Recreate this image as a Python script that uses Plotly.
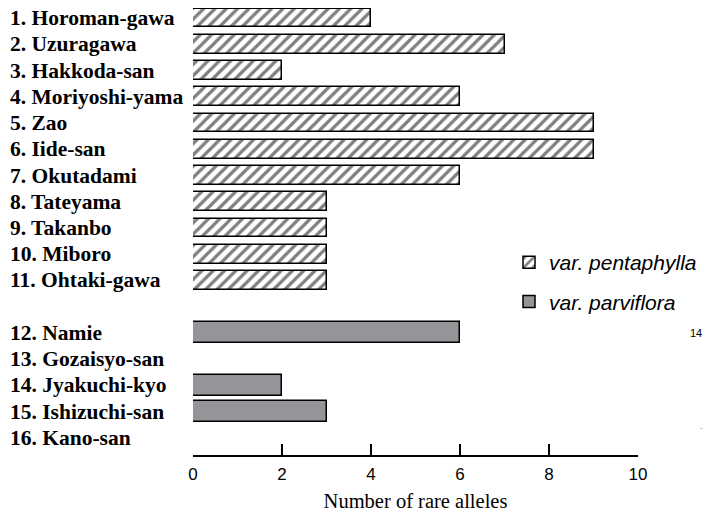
import plotly.graph_objects as go

sites = ["1. Horoman-gawa", "2. Uzuragawa", "3. Hakkoda-san", "4. Moriyoshi-yama",
         "5. Zao", "6. Iide-san", "7. Okutadami", "8. Tateyama", "9. Takanbo",
         "10. Miboro", "11. Ohtaki-gawa"]
sites_parv = ["12. Namie", "13. Gozaisyo-san", "14. Jyakuchi-kyo",
              "15. Ishizuchi-san", "16. Kano-san"]
rare_pent = [4, 7, 2, 6, 9, 9, 6, 3, 3, 3, 3]
rare_parv = [6, 0, 2, 3, 0]
x_ticks = [0, 2, 4, 6, 8, 10]

pos_pent = list(range(len(sites)))
pos_parv = [len(sites) + 1 + i for i in range(len(sites_parv))]

fig = go.Figure()
fig.add_trace(go.Bar(
    y=pos_pent, x=rare_pent, orientation="h", width=0.72,
    name="var. pentaphylla", legendgroup="a",
    marker=dict(color="white", line=dict(color="black", width=1.5),
                pattern=dict(shape="/", fgcolor="black", bgcolor="white",
                             size=8, solidity=0.4)),
))
fig.add_trace(go.Bar(
    y=pos_parv, x=rare_parv, orientation="h", width=0.8,
    name="var. parviflora", legendgroup="b",
    marker=dict(color="#939598", line=dict(color="black", width=1.5)),
))

W, H = 705, 516
L, R, T, B = 193, 67, 8, 61
pw = W - L - R
ph = H - T - B

annotations = []
for name, p in zip(sites + sites_parv, pos_pent + pos_parv):
    annotations.append(dict(
        x=-(L - 8) / pw, xref="paper", y=p, yref="y", text="<b>" + name + "</b>",
        showarrow=False, xanchor="left", yanchor="middle",
        font=dict(family="Liberation Serif", size=21.5, color="black")))
annotations.append(dict(x=(704 - L) / pw, xref="paper", y=pos_parv[0], yref="y",
                        text="14", showarrow=False, xanchor="right",
                        font=dict(family="Liberation Sans", size=11, color="black")))
annotations.append(dict(x=(705 - L) / pw, xref="paper", y=15.55, yref="y",
                        text=".", showarrow=False, xanchor="right",
                        font=dict(family="Liberation Sans", size=9, color="#555555")))

fig.update_layout(
    width=W, height=H, autosize=False,
    margin=dict(l=L, r=R, t=T, b=B, autoexpand=False),
    plot_bgcolor="white", paper_bgcolor="white",
    bargap=0, showlegend=True,
    legend=dict(x=(509 - L) / pw, y=(H - B - 242) / ph, xanchor="left", yanchor="top",
                font=dict(family="Liberation Sans", size=21, color="black", style="italic"),
                tracegroupgap=9, bgcolor="rgba(0,0,0,0)"),
    annotations=annotations,
    xaxis=dict(range=[0, 10], tickvals=x_ticks, ticks="inside", ticklen=11,
               tickwidth=2, tickcolor="black", showline=True, linecolor="black",
               linewidth=2, showgrid=False, zeroline=False, ticklabelstandoff=3,
               tickfont=dict(family="Liberation Sans", size=17, color="black"),
               title=dict(text="Number of rare alleles", standoff=10,
                          font=dict(family="Liberation Serif", size=20.5, color="black"))),
    yaxis=dict(range=[16.648, -0.381], showticklabels=False, showgrid=False,
               zeroline=False, showline=False, ticks=""),
)
fig.write_html("out.html",
               config={"displayModeBar": False, "responsive": False},
               default_width="705px", default_height="516px",
               post_script="document.body.style.margin='0';document.body.style.overflow='hidden';")
